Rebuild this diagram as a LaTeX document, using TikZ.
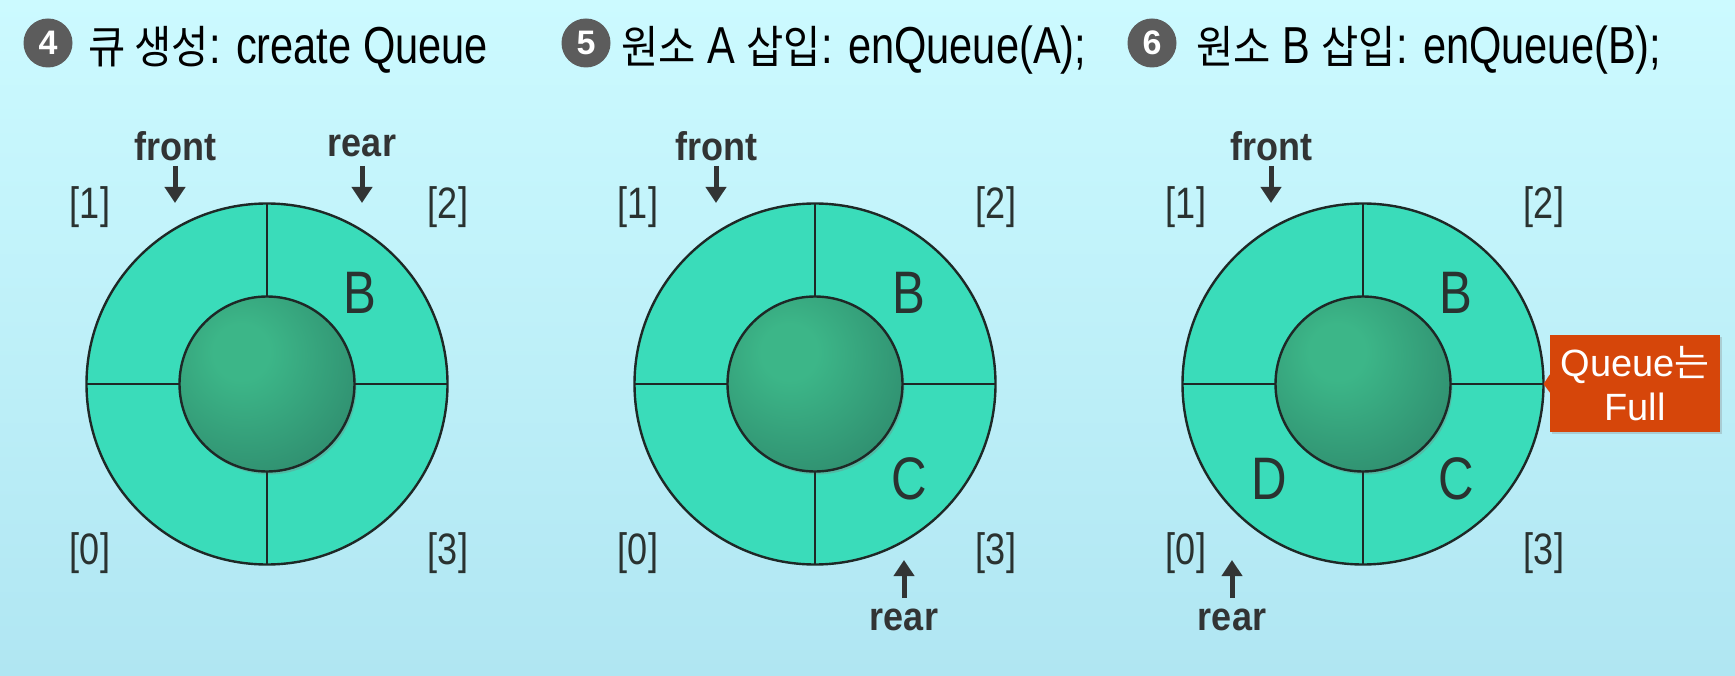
\documentclass[tikz,border=0pt]{standalone}
\usepackage{fontspec}
\setmainfont{Liberation Sans}[FakeStretch=0.82]
\newfontfamily\kr{Noto Sans CJK KR}[FakeStretch=0.9]
\newfontfamily\titlefont{Liberation Sans}[FakeStretch=0.8]
\newfontfamily\ptrfont{Liberation Sans}[FakeStretch=0.9]
\newfontfamily\callfont{Liberation Sans}
\newfontfamily\callkr{Noto Sans CJK KR}
\usetikzlibrary{arrows.meta,shadows,calc}
\definecolor{bgtop}{RGB}{204,250,255}
\definecolor{bgbot}{RGB}{176,230,242}
\definecolor{ringc}{RGB}{58,220,186}
\definecolor{hubin}{RGB}{60,182,136}
\definecolor{hubout}{RGB}{42,124,100}
\definecolor{edgec}{RGB}{30,40,38}
\definecolor{inkc}{RGB}{42,50,48}
\definecolor{arrowc}{RGB}{50,52,52}
\definecolor{badgec}{RGB}{92,92,92}
\definecolor{calloutc}{RGB}{214,70,10}
\pgfdeclareradialshading{hubshade}{\pgfpoint{-8bp}{10bp}}{color(0bp)=(hubin); color(8bp)=(hubin); color(48bp)=(hubout); color(100bp)=(hubout)}
\tikzset{
  ringnode/.style={circle,draw=edgec,line width=2.4pt,fill=ringc,minimum size=361pt,inner sep=0pt,outer sep=0pt},
  hubnode/.style={circle,draw=edgec,line width=2.4pt,shading=hubshade,minimum size=175pt,inner sep=0pt,outer sep=0pt,
    drop shadow={shadow xshift=2pt,shadow yshift=-3pt,opacity=0.35}},
  divider/.style={draw=edgec,line width=2.2pt},
  idx/.style={text=inkc,font=\fontsize{44}{48}\selectfont,inner sep=0pt},
  elem/.style={text=inkc,font=\fontsize{60}{64}\selectfont,inner sep=0pt},
  ptr/.style={text=arrowc,font=\fontsize{40}{44}\ptrfont\bfseries,inner sep=0pt},
  ptrarrow/.style={draw=arrowc,line width=5pt,-{Triangle[width=20pt,length=16pt]}},
  qbadge/.style={circle,fill=badgec,text=white,minimum width=49pt,minimum height=49pt,inner sep=0pt,font=\fontsize{34}{36}\callfont\bfseries},
  qtitle/.style={anchor=base west,inner sep=0pt,text=black,font=\fontsize{52}{56}\titlefont},
}
\newcommand{\hg}[1]{{\fontsize{45}{50}\kr #1}}
\begin{document}
\begin{tikzpicture}[x=1pt,y=-1pt]
\useasboundingbox (0,0) rectangle (1735,676);
\shade[top color=bgtop,bottom color=bgbot] (0,0) rectangle (1735,676);

% titles
\node[qbadge] (b4) at (48,43) {4};
\node[qtitle] (t4) at (88,64) {\hg{큐 생성}: create Queue};
\node[qbadge] (b5) at (586,43) {5};
\node[qtitle] (t5) at (621,64) {\hg{원소} A \hg{삽입}: enQueue(A);};
\node[qbadge] (b6) at (1152,43) {6};
\node[qtitle] (t6) at (1196,64) {\hg{원소} B \hg{삽입}: enQueue(B);};

% queue 1
\node[ringnode] (r1) at (267,384) {};
\node[hubnode] (h1) at (267,384) {};
\draw[divider] (r1.north) -- (h1.north) (r1.south) -- (h1.south) (r1.west) -- (h1.west) (r1.east) -- (h1.east);
\node[idx] (i11) at (90,207) {[1]};
\node[idx] (i12) at (448,207) {[2]};
\node[idx] (i10) at (90,553) {[0]};
\node[idx] (i13) at (448,553) {[3]};
\node[elem] (e1b) at (360,293) {B};
\node[ptr] (f1) at (175,146) {front};
\coordinate (f1s) at (175,166);
\coordinate (f1t) at (175,203);
\draw[ptrarrow] (f1s) -- (f1t);
\node[ptr] (q1) at (362,146) {rear};
\coordinate (q1s) at (362,166);
\coordinate (q1t) at (362,203);
\draw[ptrarrow] (q1s) -- (q1t);

% queue 2
\node[ringnode] (r2) at (815,384) {};
\node[hubnode] (h2) at (815,384) {};
\draw[divider] (r2.north) -- (h2.north) (r2.south) -- (h2.south) (r2.west) -- (h2.west) (r2.east) -- (h2.east);
\node[idx] (i21) at (638,207) {[1]};
\node[idx] (i22) at (996,207) {[2]};
\node[idx] (i20) at (638,553) {[0]};
\node[idx] (i23) at (996,553) {[3]};
\node[elem] (e2b) at (909,293) {B};
\node[elem] (e2c) at (909,479) {C};
\node[ptr] (f2) at (716,146) {front};
\coordinate (f2s) at (716,166);
\coordinate (f2t) at (716,203);
\draw[ptrarrow] (f2s) -- (f2t);
\node[ptr] (q2) at (904,620) {rear};
\coordinate (q2s) at (904,598);
\coordinate (q2t) at (904,560);
\draw[ptrarrow] (q2s) -- (q2t);

% queue 3
\node[ringnode] (r3) at (1363,384) {};
\node[hubnode] (h3) at (1363,384) {};
\draw[divider] (r3.north) -- (h3.north) (r3.south) -- (h3.south) (r3.west) -- (h3.west) (r3.east) -- (h3.east);
\node[idx] (i31) at (1186,207) {[1]};
\node[idx] (i32) at (1544,207) {[2]};
\node[idx] (i30) at (1186,553) {[0]};
\node[idx] (i33) at (1544,553) {[3]};
\node[elem] (e3b) at (1456,293) {B};
\node[elem] (e3c) at (1456,479) {C};
\node[elem] (e3d) at (1269,479) {D};
\node[ptr] (f3) at (1271,146) {front};
\coordinate (f3s) at (1271,166);
\coordinate (f3t) at (1271,203);
\draw[ptrarrow] (f3s) -- (f3t);
\node[ptr] (q3) at (1232,620) {rear};
\coordinate (q3s) at (1232,598);
\coordinate (q3t) at (1232,560);
\draw[ptrarrow] (q3s) -- (q3t);

% callout
\node[fill=calloutc,text=white,minimum width=170pt,minimum height=97pt,inner sep=0pt,align=center,
  font=\fontsize{38}{44}\selectfont\callfont,drop shadow={shadow xshift=2pt,shadow yshift=-2pt,opacity=0.3}] (full) at (1635,383.5)
  {Queue{\callkr 는}\\Full};
\fill[calloutc] ($(full.west)+(0,-9)$) -- (r3.east) -- ($(full.west)+(0,9)$) -- cycle;
\end{tikzpicture}
\end{document}
